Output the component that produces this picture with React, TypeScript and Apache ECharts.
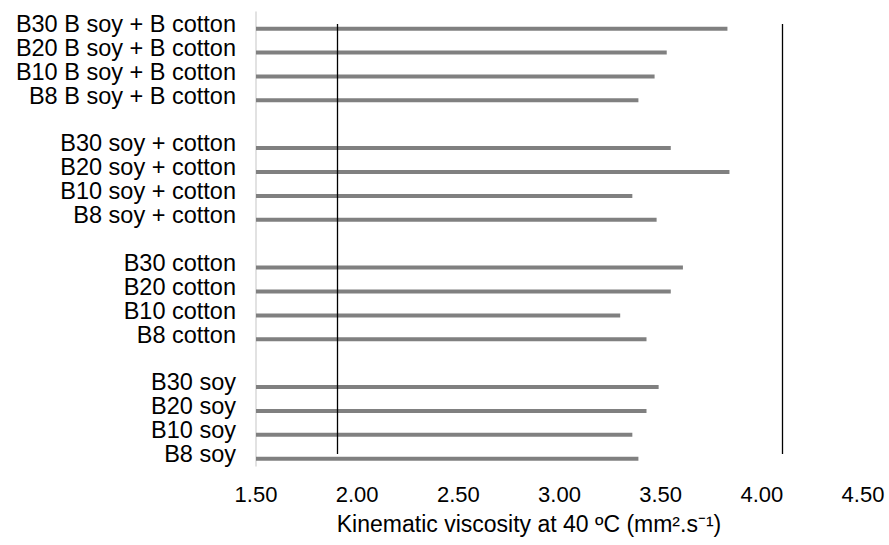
import React, { useEffect, useRef } from "react";
import * as echarts from "echarts";

// Blend labels, top to bottom; blank entries separate the feedstock groups
const categories = [
  "B30 B soy + B cotton",
  "B20 B soy + B cotton",
  "B10 B soy + B cotton",
  "B8 B soy + B cotton",
  " ",
  "B30 soy + cotton",
  "B20 soy + cotton",
  "B10 soy + cotton",
  "B8 soy + cotton",
  "  ",
  "B30 cotton",
  "B20 cotton",
  "B10 cotton",
  "B8 cotton",
  "   ",
  "B30 soy",
  "B20 soy",
  "B10 soy",
  "B8 soy",
];

// Kinematic viscosity at 40 ºC (mm².s⁻¹) for each blend
const bSoyBCotton = [3.83, 3.53, 3.47, 3.39];
const soyCotton = [3.55, 3.84, 3.36, 3.48];
const cotton = [3.61, 3.55, 3.3, 3.43];
const soy = [3.49, 3.43, 3.36, 3.39];

// Specification limits drawn as vertical lines
const specLimits = [1.9, 4.1];

const xTicks = { min: 1.5, max: 4.5, interval: 0.5 };

const FONT = "'Liberation Sans', Arial, Helvetica, sans-serif";

export default function App() {
  const ref = useRef<HTMLDivElement>(null);

  useEffect(() => {
    if (!ref.current) return;
    const chart = echarts.init(ref.current, null, { renderer: "svg" });

    const values: (number | null)[] = [
      ...bSoyBCotton,
      null,
      ...soyCotton,
      null,
      ...cotton,
      null,
      ...soy,
    ];

    const first = categories[0];
    const last = categories[categories.length - 1];

    chart.setOption({
      animation: false,
      backgroundColor: "#ffffff",
      textStyle: { fontFamily: FONT },
      grid: { left: 256, right: 26, top: 12, bottom: 79, containLabel: false },
      xAxis: {
        type: "value",
        min: xTicks.min,
        max: xTicks.max,
        interval: xTicks.interval,
        axisLine: { show: false },
        axisTick: { show: false },
        splitLine: { show: false },
        axisLabel: {
          color: "#000",
          fontSize: 22,
          fontFamily: FONT,
          margin: 17,
          formatter: (v: number) => v.toFixed(2),
        },
        name: "Kinematic viscosity at 40 ºC (mm².s⁻¹)",
        nameLocation: "middle",
        nameGap: 46,
        nameTextStyle: {
          color: "#000",
          fontSize: 23,
          fontFamily: FONT,
          padding: [0, 61, 0, 0],
        },
      },
      yAxis: {
        type: "category",
        data: categories,
        inverse: true,
        axisLine: { show: true, lineStyle: { color: "#d9d9d9", width: 1.5 } },
        axisTick: { show: false },
        splitLine: { show: false },
        axisLabel: {
          color: "#000",
          fontSize: 23.5,
          fontFamily: FONT,
          margin: 20,
          interval: 0,
        },
      },
      series: [
        {
          // empty companion series that shifts the visible bars within each row
          type: "bar",
          data: values.map(() => null),
          barWidth: 4,
          barGap: "135%",
          silent: true,
        },
        {
          type: "bar",
          data: values,
          barWidth: 4,
          barGap: "135%",
          clip: true,
          itemStyle: { color: "#808080" },
        },
        {
          // specification limits, spanning first to last blend row
          type: "line",
          data: [],
          silent: true,
          markLine: {
            silent: true,
            symbol: "none",
            label: { show: false },
            lineStyle: { color: "#000", width: 1.3, type: "solid" },
            data: specLimits.map((v) => [
              { coord: [v, first] },
              { coord: [v, last] },
            ]),
          },
        },
      ],
    });

    return () => chart.dispose();
  }, []);

  return (
    <div
      ref={ref}
      style={{ position: "fixed", left: 0, top: 0, width: 889, height: 545 }}
    />
  );
}
